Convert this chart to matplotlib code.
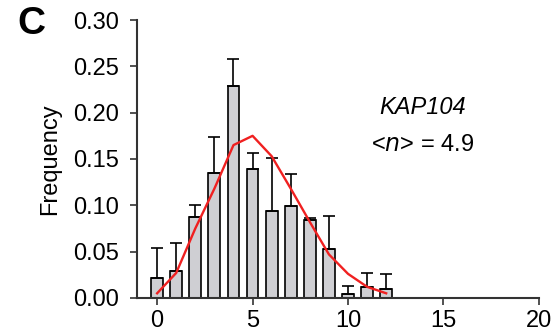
import numpy as np
import matplotlib.pyplot as plt

plt.rcParams['font.family'] = ['Liberation Sans', 'DejaVu Sans']

# histogram data
n_values = [0, 1, 2, 3, 4, 5, 6, 7, 8, 9, 10, 11, 12]
freq = [0.021, 0.029, 0.087, 0.135, 0.229, 0.139, 0.094, 0.099, 0.084, 0.053, 0.004, 0.012, 0.010]
err_top = [0.054, 0.059, 0.100, 0.174, 0.258, 0.156, 0.151, 0.134, 0.086, 0.088, 0.013, 0.027, 0.026]
# fitted curve
fit = [0.005, 0.027, 0.075, 0.118, 0.165, 0.175, 0.153, 0.118, 0.082, 0.047, 0.026, 0.012, 0.005]

err = np.array(err_top) - np.array(freq)

fig = plt.figure(figsize=(5.55, 3.34), dpi=100)
ax = fig.add_axes([0.247, 0.108, 0.724, 0.832])

ax.bar(n_values, freq, width=0.62, color='#cfcfd3', edgecolor='black', linewidth=1.2,
       yerr=[np.zeros_like(err), err], error_kw=dict(ecolor='black', elinewidth=1.2,
                                                     capsize=4, capthick=1.2), zorder=2)
ax.plot(n_values, fit, color='#f02020', linewidth=1.7, zorder=3)

ax.set_xlim(-1.05, 20)
ax.set_ylim(0, 0.30)
ax.set_xticks([0, 5, 10, 15, 20])
ax.set_yticks(np.arange(0, 0.31, 0.05))
ax.set_yticklabels(['%.2f' % v for v in np.arange(0, 0.31, 0.05)])
ax.spines['top'].set_visible(False)
ax.spines['right'].set_visible(False)
for side in ['left', 'bottom']:
    ax.spines[side].set_color('#333333')
    ax.spines[side].set_linewidth(1.5)
ax.tick_params(direction='out', length=5, width=1.2, labelsize=17, color='#333333')
ax.tick_params(axis='y', pad=8)
ax.tick_params(axis='x', pad=4)
ax.set_ylabel('Frequency', fontsize=17, labelpad=9)

ax.text(13.9, 0.206, 'KAP104', style='italic', fontsize=17, ha='center', va='center')
ax.text(13.9, 0.165, r'<$n$> = 4.9', fontsize=17, ha='center', va='center')
fig.text(0.056, 0.928, 'C', fontsize=28, fontweight='bold', ha='center', va='center')

fig.savefig('out.png', dpi=100)
